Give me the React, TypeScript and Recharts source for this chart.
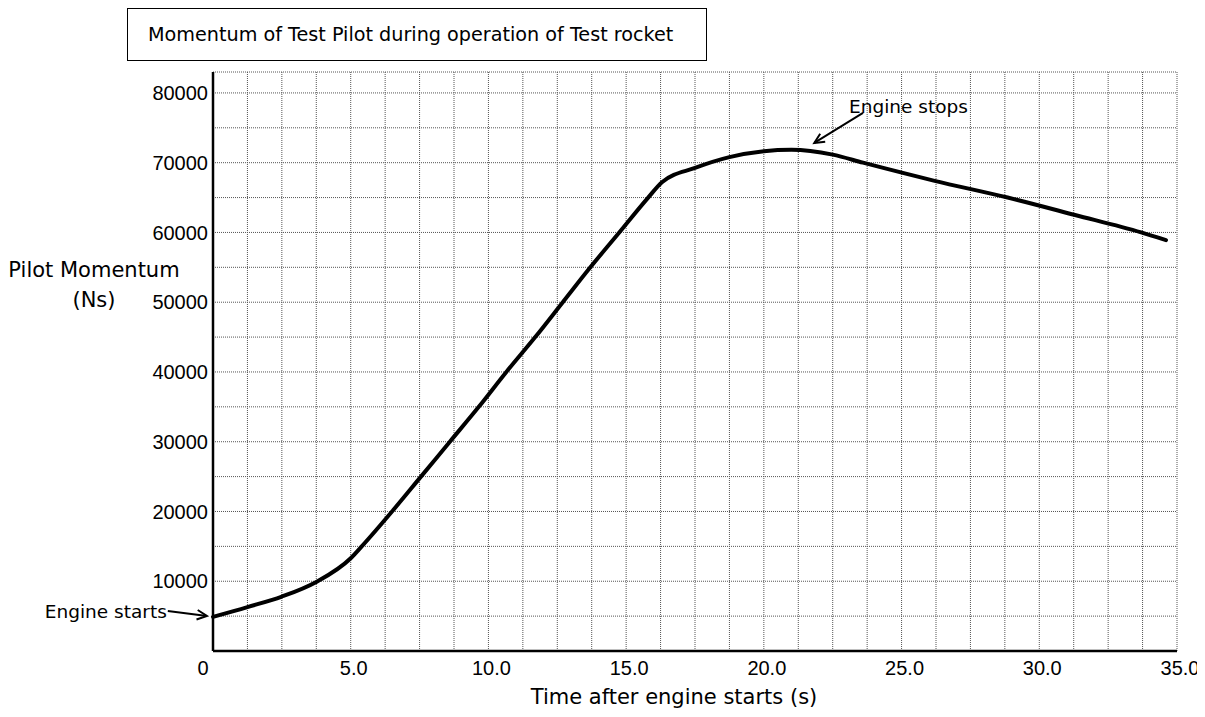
import { LineChart, Line, XAxis, YAxis, CartesianGrid, ReferenceLine } from 'recharts'

// time after engine start (s)
const times = [0, 1.25, 2.5, 3.75, 5, 5.4, 6.5, 7.55, 8.6, 9.65, 10.65, 11.7, 12.7, 13.7, 14.75, 15.8, 16.3, 17.5, 18.75, 20, 21, 22.5, 23.6, 26.2, 28.85, 31.3, 33.7, 34.6]
// pilot momentum (Ns)
const momentum = [4900, 6300, 7800, 9900, 13300, 15000, 20000, 25000, 30000, 35000, 40000, 45000, 50000, 55000, 60000, 65000, 67200, 69250, 70800, 71650, 71850, 71150, 70000, 67400, 65000, 62500, 60000, 58900]

const xTicks = [0, 1.25, 2.5, 3.75, 5, 6.25, 7.5, 8.75, 10, 11.25, 12.5, 13.75, 15, 16.25, 17.5, 18.75, 20, 21.25, 22.5, 23.75, 25, 26.25, 27.5, 28.75, 30, 31.25, 32.5, 33.75, 35]
const yTicks = [0, 5000, 10000, 15000, 20000, 25000, 30000, 35000, 40000, 45000, 50000, 55000, 60000, 65000, 70000, 75000, 80000]

// annotation arrows: [tail, tip] in data units
const startArrow = [{ x: -1.64, y: 5730 }, { x: -0.22, y: 5020 }]
const stopArrow = [{ x: 23.6, y: 77130 }, { x: 21.83, y: 72830 }]

const data = times.map((t, i) => ({ t, p: momentum[i] }))

const tickFont = '"Liberation Sans", Arial, sans-serif'
const textFont = '"DejaVu Sans", Tahoma, Verdana, sans-serif'

const XTick = (props: any) => {
  const { x, y, payload } = props
  const v = payload.value
  if (v % 5 !== 0) return null
  const label = v === 0 ? '0' : v.toFixed(1)
  return (
    <text x={v === 0 ? x - 10 : x + 3} y={y + 10} dy="0.71em" textAnchor="middle" fontSize={20} fontFamily={tickFont} fill="#000">
      {label}
    </text>
  )
}

const YTick = (props: any) => {
  const { x, y, payload } = props
  const v = payload.value
  if (v === 0 || v % 10000 !== 0) return null
  return (
    <text x={x - 5} y={y} dy="0.355em" textAnchor="end" fontSize={20} fontFamily={tickFont} fill="#000">
      {v}
    </text>
  )
}

const arrowShape = (text: string, side: 'left' | 'above') => (props: any) => {
  const { x1, y1, x2, y2 } = props
  const ang = Math.atan2(y2 - y1, x2 - x1)
  const len = 11
  const spread = 0.45
  const ax = x2 - len * Math.cos(ang - spread)
  const ay = y2 - len * Math.sin(ang - spread)
  const bx = x2 - len * Math.cos(ang + spread)
  const by = y2 - len * Math.sin(ang + spread)
  return (
    <g>
      <line x1={x1} y1={y1} x2={x2} y2={y2} stroke="#000" strokeWidth={2} />
      <polyline points={`${ax},${ay} ${x2},${y2} ${bx},${by}`} fill="none" stroke="#000" strokeWidth={2} />
      {side === 'left' ? (
        <text x={x1 - 1} y={y1} dy="0.35em" textAnchor="end" fontSize={18.5} fontFamily={textFont} fill="#000">{text}</text>
      ) : (
        <text x={x1 - 14} y={y1 - 6} dy="0.35em" textAnchor="start" fontSize={18.5} fontFamily={textFont} fill="#000">{text}</text>
      )}
    </g>
  )
}

const YTitle = (props: any) => {
  const { viewBox } = props
  const cx = viewBox.x - 19
  return (
    <g fontSize={21} fontFamily={textFont} fill="#000">
      <text x={cx} y={270} dy="0.35em" textAnchor="middle">Pilot Momentum</text>
      <text x={cx} y={300} dy="0.35em" textAnchor="middle">(Ns)</text>
    </g>
  )
}

const XTitle = (props: any) => {
  const { viewBox } = props
  return (
    <text x={viewBox.x + viewBox.width / 2 - 21} y={697} dy="0.35em" textAnchor="middle" fontSize={21} fontFamily={textFont} fill="#000">
      Time after engine starts (s)
    </text>
  )
}

export default function App() {
  return (
    <div style={{ position: 'relative', width: 1205, height: 717, margin: '-8px 0 0 -8px', background: '#fff' }}>
      <div
        style={{
          position: 'absolute',
          left: 127,
          top: 8,
          width: 580,
          height: 53,
          boxSizing: 'border-box',
          border: '1.5px solid #000',
          display: 'flex',
          alignItems: 'center',
          paddingLeft: 20,
          fontFamily: textFont,
          fontSize: 19.2,
          color: '#000',
          background: '#fff',
        }}
      >
        Momentum of Test Pilot during operation of Test rocket
      </div>
      <LineChart width={1205} height={717} data={data} margin={{ top: 72, right: 28, bottom: 0, left: 113 }}>
        <CartesianGrid stroke="#555" strokeDasharray="1 1" strokeWidth={1} />
        <XAxis
          dataKey="t"
          type="number"
          domain={[0, 35]}
          ticks={xTicks}
          interval={0}
          height={66}
          tickSize={0}
          tickMargin={0}
          tickLine={false}
          axisLine={{ stroke: '#000', strokeWidth: 2.5 }}
          tick={XTick}
          label={{ content: XTitle }}
        />
        <YAxis
          type="number"
          domain={[0, 83000]}
          ticks={yTicks}
          interval={0}
          width={100}
          tickSize={0}
          tickMargin={0}
          tickLine={false}
          allowDataOverflow
          axisLine={{ stroke: '#000', strokeWidth: 2.5 }}
          tick={YTick}
          label={{ content: YTitle }}
        />
        <Line type="monotone" dataKey="p" stroke="#000" strokeWidth={4} dot={false} isAnimationActive={false} strokeLinecap="round" />
        <ReferenceLine segment={startArrow} ifOverflow="visible" shape={arrowShape('Engine starts', 'left')} />
        <ReferenceLine segment={stopArrow} ifOverflow="visible" shape={arrowShape('Engine stops', 'above')} />
      </LineChart>
    </div>
  )
}
